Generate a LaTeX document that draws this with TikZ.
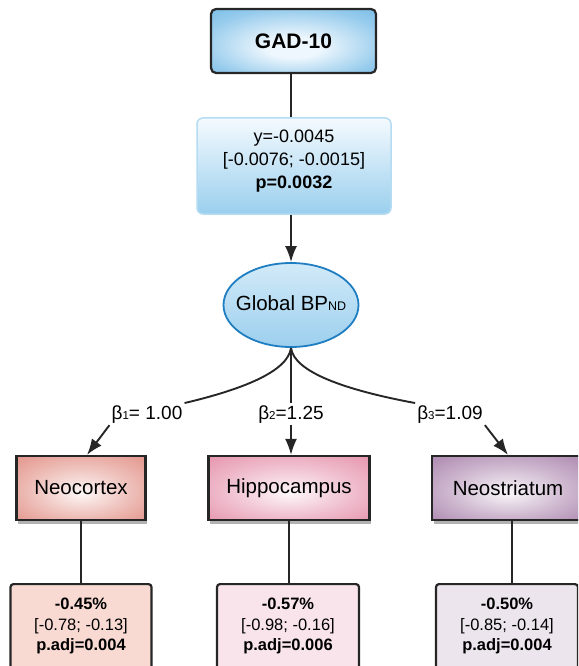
\documentclass[tikz,border=0pt]{standalone}
\usepackage{fontspec}
\setmainfont{Liberation Sans}
\usetikzlibrary{shapes.geometric,arrows.meta,shadows,calc}
\definecolor{gadin}{HTML}{EEF7FD}
\definecolor{gadout}{HTML}{4FA8DF}
\colorlet{gadmid}{gadout!55!gadin}
\definecolor{midtop}{HTML}{F4FAFE}
\definecolor{midbot}{HTML}{9ACFEE}
\definecolor{midline}{HTML}{B5DCF2}
\definecolor{elltop}{HTML}{D2EAF8}
\definecolor{ellbot}{HTML}{9CCFEE}
\definecolor{elline}{HTML}{1F7DC1}
\definecolor{ncout}{HTML}{DC7C70}
\definecolor{hcout}{HTML}{E07C9C}
\definecolor{nsout}{HTML}{9A6C9D}
\colorlet{ncin}{ncout!6!white}
\colorlet{ncmid}{ncout!50!white}
\colorlet{hcin}{hcout!6!white}
\colorlet{hcmid}{hcout!50!white}
\colorlet{nsin}{nsout!6!white}
\colorlet{nsmid}{nsout!50!white}
\definecolor{rone}{HTML}{F8DAD3}
\definecolor{rtwo}{HTML}{F8E4EA}
\definecolor{rthree}{HTML}{EDE5EE}
\definecolor{edge}{HTML}{262626}
\pgfdeclareradialshading{gadshade}{\pgfpoint{0bp}{-6bp}}{color(0bp)=(gadin); color(8bp)=(gadin); color(28bp)=(gadmid); color(52bp)=(gadout)}
\pgfdeclareradialshading{ncshade}{\pgfpoint{0bp}{-4bp}}{color(0bp)=(ncin); color(20bp)=(ncmid); color(46bp)=(ncout)}
\pgfdeclareradialshading{hcshade}{\pgfpoint{0bp}{-4bp}}{color(0bp)=(hcin); color(20bp)=(hcmid); color(46bp)=(hcout)}
\pgfdeclareradialshading{nsshade}{\pgfpoint{0bp}{-4bp}}{color(0bp)=(nsin); color(20bp)=(nsmid); color(46bp)=(nsout)}
\tikzset{
  conn/.style={line width=1.9pt, draw=edge},
  arr/.style={conn, -{Latex[length=16pt,width=12pt]}},
  regbox/.style={draw=edge, line width=2.2pt, minimum height=64pt, inner sep=0pt,
    font=\fontsize{20.5}{24}\selectfont,
    drop shadow={shadow xshift=1.5pt, shadow yshift=-4pt, opacity=0.3, fill=black}},
  resbox/.style={draw=edge, line width=2.2pt, rounded corners=3pt, minimum height=110pt,
    inner sep=0pt, anchor=north},
  restext/.style={align=center, inner sep=0pt, font=\fontsize{16.5}{20.5}\selectfont},
  betalab/.style={anchor=base, inner sep=2pt, font=\fontsize{19}{22}\selectfont}
}
\newcommand{\sbs}[1]{{\fontsize{11.5}{11.5}\selectfont #1}}
\begin{document}
\begin{tikzpicture}[x=1pt,y=-1pt]
\useasboundingbox (0,0) rectangle (578,666);
\clip (0,0) rectangle (578,666);
% top box
\node[draw=edge, line width=2.2pt, rounded corners=5pt, shading=gadshade,
  minimum width=165pt, minimum height=64pt, inner sep=0pt,
  font=\bfseries\fontsize{21}{24}\selectfont] (gad) at (293.5,41) {GAD-10};
% middle box
\node[draw=midline, line width=1.5pt, rounded corners=6pt,
  top color=midtop, bottom color=midbot,
  minimum width=194pt, minimum height=96pt, inner sep=0pt] (mid) at (294,166) {};
\node[align=center, inner sep=0pt, font=\fontsize{18}{23}\selectfont] (midtxt) at (294,161.5)
  {y=-0.0045\\{[}-0.0076; -0.0015{]}\\\textbf{p=0.0032}};
% ellipse
\node[ellipse, draw=elline, line width=1.8pt, top color=elltop, bottom color=ellbot,
  minimum width=135pt, minimum height=84pt, inner sep=0pt] (gb) at (291,305) {};
\node[inner sep=0pt, font=\fontsize{20.5}{24}\selectfont] (gbtxt) at (291,303)
  {Global BP{\fontsize{12.5}{12}\selectfont ND}};
% region boxes
\node[regbox, shading=ncshade, minimum width=129pt] (nc) at (81,488) {Neocortex};
\node[regbox, shading=hcshade, minimum width=161pt] (hc) at (289,488) {Hippocampus};
\node[regbox, shading=nsshade, minimum width=152pt] (ns) at (508,488) {Neostriatum};
% result boxes
\node[resbox, fill=rone, minimum width=141pt] (r1) at (81,583) {};
\node[resbox, fill=rtwo, minimum width=142pt] (r2) at (288,583) {};
\node[resbox, fill=rthree, minimum width=142pt] (r3) at (507,583) {};
\node[restext] (t1) at (81,626.4) {\textbf{-0.45\%}\\{[}-0.78; -0.13{]}\\\textbf{p.adj=0.004}};
\node[restext] (t2) at (288,626.4) {\textbf{-0.57\%}\\{[}-0.98; -0.16{]}\\\textbf{p.adj=0.006}};
\node[restext] (t3) at (507,626.4) {\textbf{-0.50\%}\\{[}-0.85; -0.14{]}\\\textbf{p.adj=0.004}};
% beta labels
\node[betalab] (b1) at (147,419) {β\sbs{1}= 1.00};
\node[betalab] (b2) at (291,419) {β\sbs{2}=1.25};
\node[betalab] (b3) at (450,419) {β\sbs{3}=1.09};
% connectors
\draw[conn] (gad.south -| gb.north) -- (mid.north -| gb.north);
\draw[arr] (mid.south -| gb.north) -- (gb.north);
\draw[conn] (gb.south) .. controls (288,372) and (240,390) .. (b1.north east);
\draw[conn] (gb.south) -- (b2.north);
\draw[conn] (gb.south) .. controls (294,372) and (345,390) .. (b3.north west);
\draw[arr] (b1.south west) -- ([xshift=6pt]nc.north);
\draw[arr] (b2.south) -- (b2.south |- hc.north);
\draw[arr] (b3.south east) -- (ns.north);
\draw[conn] (nc.south) -- (nc.south |- r1.north);
\draw[conn] (hc.south) -- (hc.south |- r2.north);
\draw[conn] ([xshift=4pt]ns.south) -- ([xshift=4pt]ns.south |- r3.north);
\end{tikzpicture}
\end{document}
